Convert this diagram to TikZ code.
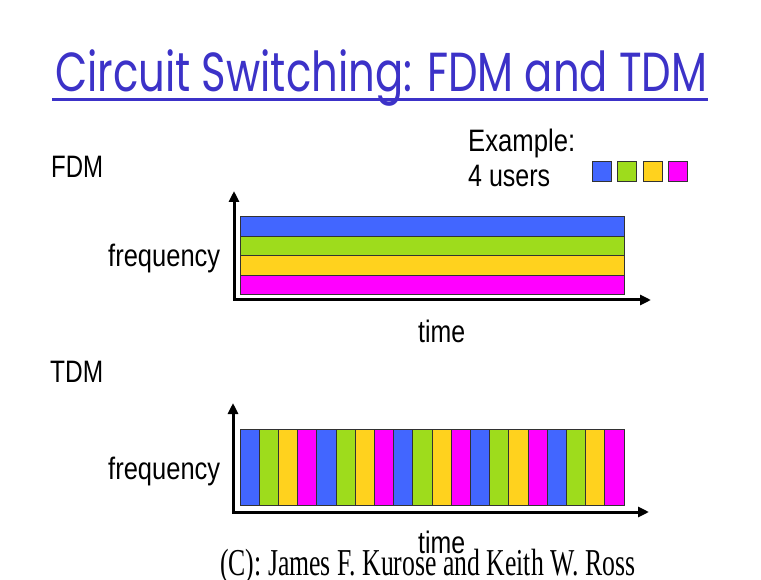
\documentclass[tikz,border=0pt]{standalone}
\usepackage{fontspec}
\usepackage{graphicx}
\setmainfont{Liberation Sans}
\newfontfamily\titlefont{Poppins}
\newfontfamily\footfont{Liberation Serif}
\usetikzlibrary{arrows.meta}
\definecolor{ublue}{RGB}{66,102,255}
\definecolor{ugreen}{RGB}{158,220,28}
\definecolor{uyellow}{RGB}{255,210,30}
\definecolor{umag}{RGB}{255,0,255}
\definecolor{titleblue}{RGB}{60,50,200}
\definecolor{edge}{RGB}{50,50,50}
\newcommand\fitw[2]{\resizebox{#1pt}{\height}{#2}}
\begin{document}
\begin{tikzpicture}[x=1pt,y=-1pt,
  lbl/.style={anchor=base west, inner sep=0pt, font=\fontsize{31}{31}\selectfont, text=black},
  cell/.style={draw=edge, line width=1pt},
  axis/.style={line width=3pt, {Triangle[length=11pt,width=10pt]}-{Triangle[length=11pt,width=10pt]}}
]
\fill[white] (0,0) rectangle (761,580);
\useasboundingbox (0,0) rectangle (761,580);

% title
\node[anchor=base west, inner sep=0pt, text=titleblue, font=\titlefont\fontsize{55}{55}\selectfont] (title) at (55,92) {\fitw{652}{Circuit Switching: FDM and TDM}};
\draw[titleblue, line width=3pt] (52,100) -- (708,100);

% labels
\node[lbl] (fdm) at (51,177.5) {\fitw{52}{FDM}};
\node[lbl] (tdm) at (50,382.5) {\fitw{53}{TDM}};
\node[lbl] (ex) at (468,152) {\fitw{107}{Example:}};
\node[lbl] (users) at (468,187) {\fitw{82}{4 users}};
\node[lbl] (freq1) at (108,267) {\fitw{112}{frequency}};
\node[lbl] (freq2) at (108,479) {\fitw{112}{frequency}};
\node[lbl] (time1) at (418,342) {\fitw{47}{time}};
\node[lbl] (time2) at (418,553.5) {\fitw{47}{time}};

% legend
\draw[cell, fill=ublue] (592,162) rectangle ++(19,20);
\draw[cell, fill=ugreen] (617.5,162) rectangle ++(19,20);
\draw[cell, fill=uyellow] (643,162) rectangle ++(19,20);
\draw[cell, fill=umag] (668.5,162) rectangle ++(19,20);

% FDM
\draw[cell, fill=ublue] (240,217) rectangle (624,236.5);
\draw[cell, fill=ugreen] (240,236.5) rectangle (624,256);
\draw[cell, fill=uyellow] (240,256) rectangle (624,275.3);
\draw[cell, fill=umag] (240,275.3) rectangle (624,294.5);
\coordinate (fo) at (234,300);
\coordinate (fy) at (234,191);
\coordinate (fx) at (651,300);
\draw[axis] (fy) -- (fo) -- (fx);

% TDM
\foreach \i in {0,...,19}{
  \pgfmathtruncatemacro\k{mod(\i,4)}
  \ifcase\k \def\cc{ublue}\or \def\cc{ugreen}\or \def\cc{uyellow}\or \def\cc{umag}\fi
  \draw[cell, fill=\cc] (240+19.2*\i,429) rectangle ++(19.2,76);
}
\coordinate (to) at (233,512);
\coordinate (ty) at (233,403);
\coordinate (tx) at (649,512);
\draw[axis] (ty) -- (to) -- (tx);

% footer
\node[anchor=base west, inner sep=0pt, font=\footfont\fontsize{38}{38}\selectfont] (foot) at (220,575) {\fitw{415}{(C): James F. Kurose and Keith W. Ross}};
\end{tikzpicture}
\end{document}
